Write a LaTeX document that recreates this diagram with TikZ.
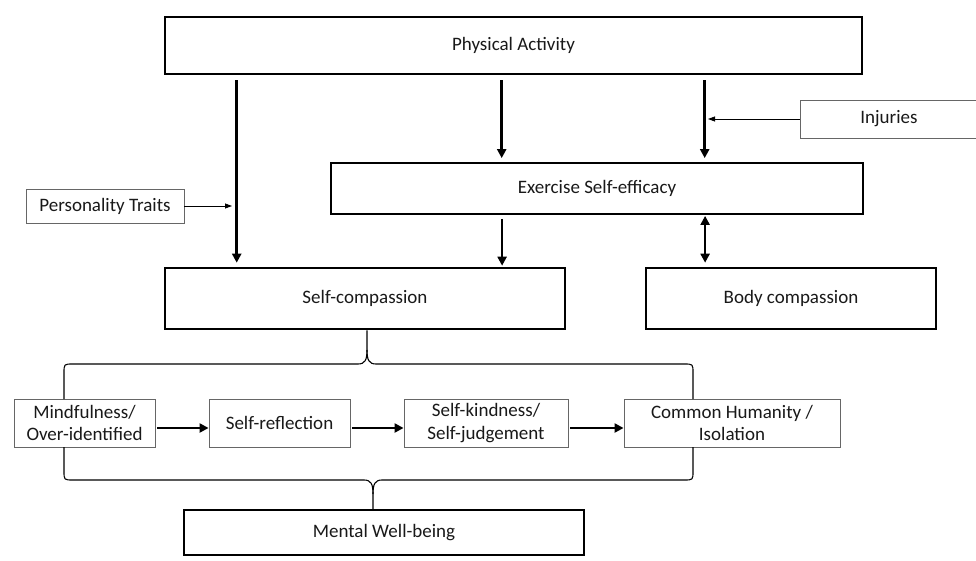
\documentclass[tikz,border=0pt]{standalone}
\usepackage{fontspec}
\setmainfont{Carlito}
\usetikzlibrary{arrows.meta}
\begin{document}
\begin{tikzpicture}[x=1pt,y=-1pt,
  box/.style={draw, inner sep=0pt, align=center, fill=white,
    font=\fontsize{19}{22.5}\selectfont, text=black!90},
  heavybox/.style={box, line width=2.6pt},
  midbox/.style={box, line width=1.8pt},
  lightbox/.style={box, draw=black!60, line width=0.9pt},
  bigarrow/.style={line width=2.6pt, -{Triangle[length=9pt,width=9pt]}},
  dblarrow/.style={line width=2.6pt, {Triangle[length=9pt,width=9pt]}-{Triangle[length=9pt,width=9pt]}},
  smallarrow/.style={line width=0.8pt, -{Triangle[length=7pt,width=5pt]}},
  brace/.style={line width=1.1pt, line join=round}
]
\useasboundingbox (0,0) rectangle (976,561);

% main boxes
\node[heavybox, minimum width=697, minimum height=57] (pa) at (513.5,45.5) {Physical Activity};
\node[midbox, minimum width=532, minimum height=51] (ese) at (597,188.5) {Exercise Self-efficacy};
\node[heavybox, minimum width=400, minimum height=61] (sc) at (365,298.5) {Self-compassion};
\node[heavybox, minimum width=290, minimum height=61] (bc) at (791,298.5) {Body compassion};
\node[box, line width=1.5pt, minimum width=400, minimum height=45] (mw) at (384,532.5) {Mental Well-being};

% side factors
\node[lightbox, minimum width=178, minimum height=38] (inj) at (889,119) {Injuries};
\node[lightbox, minimum width=158, minimum height=34] (pt) at (105,206) {Personality Traits};

% self-compassion components
\node[lightbox, minimum width=141, minimum height=48] (mf) at (84.5,423) {Mindfulness/\\Over-identified};
\node[lightbox, minimum width=141, minimum height=48] (sr) at (279.5,423) {Self-reflection};
\node[lightbox, minimum width=164, minimum height=48] (sk) at (486,423) {Self-kindness/\\Self-judgement};
\node[lightbox, minimum width=216, minimum height=48] (ch) at (732,423) {Common Humanity /\\Isolation};

% arrows from physical activity
\draw[bigarrow, shorten <=5pt, shorten >=4pt]
  ([xshift=73pt]pa.south west) -- ([xshift=73pt]pa.south west |- sc.north);
\draw[bigarrow, shorten <=5pt, shorten >=4pt]
  ([xshift=338pt]pa.south west) -- ([xshift=338pt]pa.south west |- ese.north);
\draw[bigarrow, shorten <=5pt, shorten >=4pt]
  ([xshift=541pt]pa.south west) -- ([xshift=541pt]pa.south west |- ese.north);

% arrows from exercise self-efficacy
\draw[bigarrow, shorten <=4pt, shorten >=1pt]
  ([xshift=172pt]ese.south west) -- ([xshift=172pt]ese.south west |- sc.north);
\draw[dblarrow, shorten <=1pt, shorten >=4pt]
  ([xshift=375pt]ese.south west) -- ([xshift=375pt]ese.south west |- bc.north);

% moderators
\coordinate (injhit) at (708,119);
\coordinate (pthit) at (232,206);
\draw[smallarrow] (inj.west) -- (injhit);
\draw[smallarrow] (pt.east) -- (pthit);

% component sequence
\draw[bigarrow, shorten <=2pt] ([yshift=-5pt]mf.east) -- ([yshift=-5pt]sr.west);
\draw[bigarrow, shorten <=2pt] ([yshift=-5pt]sr.east) -- ([yshift=-5pt]sk.west);
\draw[bigarrow, shorten <=2pt] ([yshift=-5pt]sk.east) -- ([yshift=-5pt]ch.west);

% upper brace
\draw[brace] (64,399) -- (64,373) .. controls (64,364) .. (73,364) -- (358,364)
  .. controls (365,364) and (367,360) .. (367,350) -- (sc.south -| 367,0);
\draw[brace] (367,350) .. controls (367,360) and (369,364) .. (376,364) -- (684,364)
  .. controls (693,364) .. (693,373) -- (693,399);
% lower brace
\draw[brace] (64,447) -- (64,471) .. controls (64,480) .. (73,480) -- (364,480)
  .. controls (371,480) and (373,484) .. (373,494) -- (mw.north -| 373,0);
\draw[brace] (373,494) .. controls (373,484) and (375,480) .. (382,480) -- (684,480)
  .. controls (693,480) .. (693,471) -- (693,447);
\end{tikzpicture}
\end{document}
